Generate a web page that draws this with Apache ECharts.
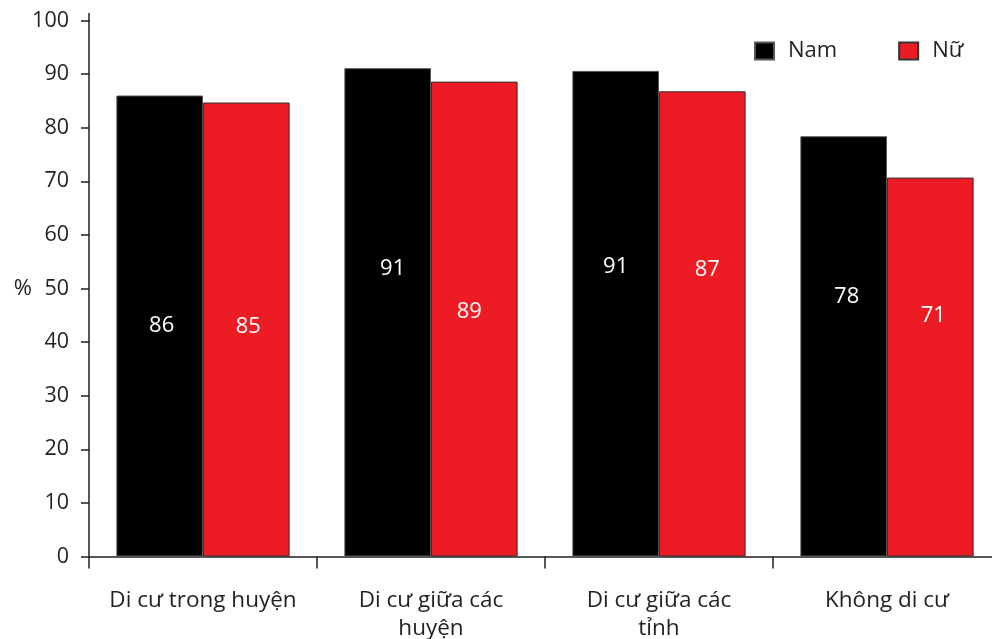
<!DOCTYPE html>
<html><head><meta charset="utf-8">
<script src="https://cdn.jsdelivr.net/npm/echarts@6/dist/echarts.min.js"></script>
<style>html,body{margin:0;padding:0;background:#fff}#c{width:992px;height:639px}</style>
</head><body><div id="c"></div>
<script>
const categories = ['Di cư trong huyện', 'Di cư giữa các\nhuyện', 'Di cư giữa các\ntỉnh', 'Không di cư'];
const seriesNames = ['Nam', 'Nữ'];
const namValues = [86.0, 91.1, 90.6, 78.4];
const nuValues = [84.7, 88.6, 86.8, 70.7];
const yMin = 0, yMax = 100, yStep = 10;

const FONT = '"Open Sans", sans-serif';
const TXT = '#231f20';
const namLabelOffset = [[2, 0], [5, -44], [0, -47], [3, -50]];
const nuLabelOffset = [[2, -3], [-5, -7], [5, -54], [3, -51]];

function mkData(vals, offs) {
  return vals.map((v, i) => ({ value: v, label: { offset: offs[i] } }));
}

const chart = echarts.init(document.getElementById('c'), null, { renderer: 'canvas' });
chart.setOption({
  animation: false,
  backgroundColor: '#fff',
  textStyle: { fontFamily: FONT },
  legend: {
    data: seriesNames,
    left: 754, top: 40,
    itemWidth: 19, itemHeight: 17, itemGap: 61, padding: 0,
    icon: 'rect',
    textStyle: { fontSize: 22, color: TXT, fontFamily: FONT, padding: [0, 0, 0, 9] }
  },
  graphic: [{
    type: 'line', shape: { x1: 89, y1: 13, x2: 89, y2: 21 },
    style: { stroke: '#231f20', lineWidth: 1.5 }, silent: true
  }],
  grid: { left: 89, width: 912, top: 20.5, bottom: 82.5, containLabel: false, outerBoundsMode: 'none' },
  xAxis: {
    type: 'category',
    data: categories,
    axisLine: { lineStyle: { color: '#231f20', width: 1.5 } },
    axisTick: { show: true, length: 12, alignWithLabel: false, lineStyle: { color: '#231f20', width: 1.5 } },
    axisLabel: { color: TXT, fontSize: 22.5, fontFamily: FONT, margin: 30, lineHeight: 28, interval: 0 }
  },
  yAxis: {
    type: 'value',
    min: yMin, max: yMax, interval: yStep,
    name: '%', nameLocation: 'middle', nameRotate: 0, nameGap: 57, nameMoveOverlap: false,
    nameTextStyle: { fontSize: 22, color: TXT, fontFamily: FONT },
    axisLine: { show: true, lineStyle: { color: '#231f20', width: 1.5 } },
    axisTick: { show: true, length: 8, lineStyle: { color: '#231f20', width: 1.5 } },
    splitLine: { show: false },
    axisLabel: { color: TXT, fontSize: 21.5, fontFamily: FONT, margin: 20 }
  },
  series: [
    {
      name: seriesNames[0], type: 'bar', data: mkData(namValues, namLabelOffset),
      barWidth: '38%', barGap: '0%',
      itemStyle: { color: '#000000', borderColor: '#555', borderWidth: 1 },
      label: { show: true, position: 'inside', color: '#fff', fontSize: 22, fontFamily: FONT,
               formatter: p => Math.round(p.value) }
    },
    {
      name: seriesNames[1], type: 'bar', data: mkData(nuValues, nuLabelOffset),
      barWidth: '38%', barGap: '0%',
      itemStyle: { color: '#ed1c24', borderColor: '#333', borderWidth: 1 },
      label: { show: true, position: 'inside', color: '#fff', fontSize: 22, fontFamily: FONT,
               formatter: p => Math.round(p.value) }
    }
  ]
});
</script></body></html>
